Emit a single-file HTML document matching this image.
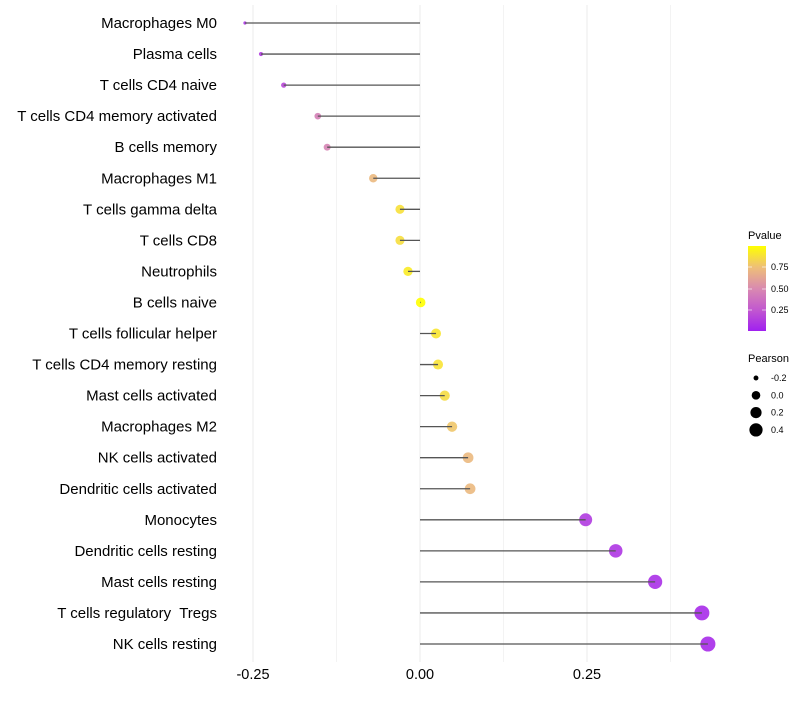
<!DOCTYPE html>
<html><head><meta charset="utf-8"><style>
body{margin:0;background:#fff;font-family:"Liberation Sans",Arial,sans-serif;}
svg text{font-family:"Liberation Sans",Arial,sans-serif;white-space:pre;}
</style></head><body>
<svg id="chart" width="800" height="700" xmlns="http://www.w3.org/2000/svg">
<defs><linearGradient id="pg" x1="0" y1="1" x2="0" y2="0">
<stop offset="0" stop-color="#A020F0"/><stop offset="0.25" stop-color="#C258CF"/><stop offset="0.5" stop-color="#D98AB0"/><stop offset="0.75" stop-color="#EEBF78"/><stop offset="1" stop-color="#FFFF00"/></linearGradient></defs>
<g id="grid"></g>
<g id="marks"></g>
<g id="ylabels"></g>
<g id="xlabels"></g>
<g>
<text x="748" y="239" font-size="11">Pvalue</text>
<rect x="748" y="246" width="18" height="85" fill="url(#pg)"/>
<line x1="748" y1="267" x2="752" y2="267" stroke="#fff" opacity="0.6"/><line x1="762" y1="267" x2="766" y2="267" stroke="#fff" opacity="0.6"/>
<line x1="748" y1="289" x2="752" y2="289" stroke="#fff" opacity="0.6"/><line x1="762" y1="289" x2="766" y2="289" stroke="#fff" opacity="0.6"/>
<line x1="748" y1="310" x2="752" y2="310" stroke="#fff" opacity="0.6"/><line x1="762" y1="310" x2="766" y2="310" stroke="#fff" opacity="0.6"/>
<text x="771" y="270" font-size="9">0.75</text>
<text x="771" y="292" font-size="9">0.50</text>
<text x="771" y="313" font-size="9">0.25</text>
</g>
<g id="sizeleg">
<text x="748" y="362" font-size="11">Pearson</text>
</g>
</svg>
<script>
const categories=["Macrophages M0","Plasma cells","T cells CD4 naive","T cells CD4 memory activated","B cells memory","Macrophages M1","T cells gamma delta","T cells CD8","Neutrophils","B cells naive","T cells follicular helper","T cells CD4 memory resting","Mast cells activated","Macrophages M2","NK cells activated","Dendritic cells activated","Monocytes","Dendritic cells resting","Mast cells resting","T cells regulatory  Tregs","NK cells resting"];
const pearson=[-0.262,-0.238,-0.204,-0.153,-0.139,-0.070,-0.030,-0.030,-0.018,0.001,0.024,0.027,0.037,0.048,0.072,0.075,0.248,0.293,0.352,0.422,0.431];
const pvalue=[0.08,0.12,0.18,0.45,0.47,0.72,0.88,0.87,0.92,1.0,0.9,0.89,0.86,0.78,0.72,0.72,0.12,0.1,0.07,0.05,0.05];
const xTicks=[-0.25,0,0.25];
const xTickLabels=["-0.25","0.00","0.25"];
const sizeLegendVals=[-0.2,0,0.2,0.4];
const sizeLegendLabels=["-0.2","0.0","0.2","0.4"];
const NS="http://www.w3.org/2000/svg";
const X=v=>420+v*668;
const Y=i=>23+i*31.05;
const R=v=>Math.sqrt(Math.max(1,23+78*v));
const stops=[[0,[160,32,240]],[0.25,[194,88,207]],[0.5,[217,138,176]],[0.75,[238,191,120]],[1,[255,255,0]]];
function col(p){for(let i=1;i<stops.length;i++){if(p<=stops[i][0]){const a=stops[i-1],b=stops[i],t=(p-a[0])/(b[0]-a[0]);return 'rgb('+a[1].map((c,k)=>Math.round(c+(b[1][k]-c)*t)).join(',')+')';}}return 'rgb(255,255,0)';}
function mk(tag,attrs,parent){const e=document.createElementNS(NS,tag);for(const k in attrs)e.setAttribute(k,attrs[k]);parent.appendChild(e);return e;}
const grid=document.getElementById('grid'),marks=document.getElementById('marks'),yl=document.getElementById('ylabels'),xl=document.getElementById('xlabels');
[-0.25,-0.125,0,0.125,0.25,0.375].forEach(v=>{const l=mk('line',{x1:X(v),x2:X(v),y1:5,y2:662,stroke:'#ebebeb','stroke-width':v*8%2===0?1:0.6},grid);

});
categories.forEach((c,i)=>{
const y=Y(i);
const d=mk('circle',{cx:X(pearson[i]),cy:y,r:R(pearson[i]),fill:col(pvalue[i]),'fill-opacity':0.9},marks);


const l=mk('line',{x1:X(0),x2:X(pearson[i]),y1:y,y2:y,stroke:'#555','stroke-width':1.3},marks);


const t=mk('text',{x:217,y:y+5,'text-anchor':'end','font-size':15,fill:'#000'},yl);t.textContent=c;


});
xTicks.forEach((v,i)=>{const t=mk('text',{x:X(v),y:679,'text-anchor':'middle','font-size':14.5,fill:'#000'},xl);t.textContent=xTickLabels[i];

});
const sl=document.getElementById('sizeleg');
sizeLegendVals.forEach((v,i)=>{const y=378+i*17.3;
const c=mk('circle',{cx:756,cy:y,r:R(v)*0.9,fill:'#000'},sl);


const t=mk('text',{x:771,y:y+3,'font-size':9},sl);t.textContent=sizeLegendLabels[i];

});
</script>
</body></html>
